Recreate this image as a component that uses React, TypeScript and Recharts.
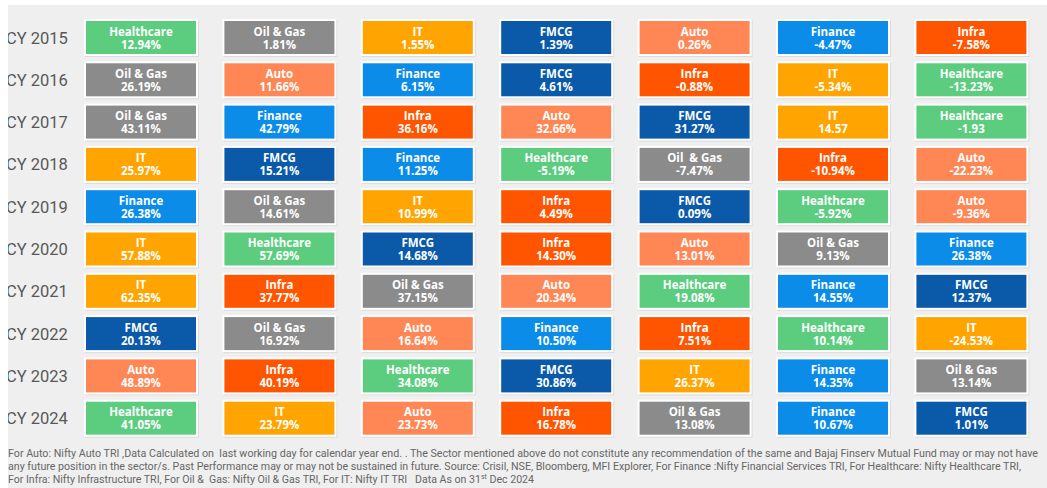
import { ScatterChart, Scatter, XAxis, YAxis, Customized } from 'recharts'

const years = ['CY 2015', 'CY 2016', 'CY 2017', 'CY 2018', 'CY 2019', 'CY 2020', 'CY 2021', 'CY 2022', 'CY 2023', 'CY 2024']

// sector order per year, best to worst
const sectorRanks = [
  ['Healthcare', 'Oil & Gas', 'IT', 'FMCG', 'Auto', 'Finance', 'Infra'],
  ['Oil & Gas', 'Auto', 'Finance', 'FMCG', 'Infra', 'IT', 'Healthcare'],
  ['Oil & Gas', 'Finance', 'Infra', 'Auto', 'FMCG', 'IT', 'Healthcare'],
  ['IT', 'FMCG', 'Finance', 'Healthcare', 'Oil  & Gas', 'Infra', 'Auto'],
  ['Finance', 'Oil & Gas', 'IT', 'Infra', 'FMCG', 'Healthcare', 'Auto'],
  ['IT', 'Healthcare', 'FMCG', 'Infra', 'Auto', 'Oil & Gas', 'Finance'],
  ['IT', 'Infra', 'Oil & Gas', 'Auto', 'Healthcare', 'Finance', 'FMCG'],
  ['FMCG', 'Oil & Gas', 'Auto', 'Finance', 'Infra', 'Healthcare', 'IT'],
  ['Auto', 'Infra', 'Healthcare', 'FMCG', 'IT', 'Finance', 'Oil & Gas'],
  ['Healthcare', 'IT', 'Auto', 'Infra', 'Oil & Gas', 'Finance', 'FMCG'],
]

const returnRanks = [
  [12.94, 1.81, 1.55, 1.39, 0.26, -4.47, -7.58],
  [26.19, 11.66, 6.15, 4.61, -0.88, -5.34, -13.23],
  [43.11, 42.79, 36.16, 32.66, 31.27, 14.57, -1.93],
  [25.97, 15.21, 11.25, -5.19, -7.47, -10.94, -22.23],
  [26.38, 14.61, 10.99, 4.49, 0.09, -5.92, -9.36],
  [57.88, 57.69, 14.68, 14.3, 13.01, 9.13, 26.38],
  [62.35, 37.77, 37.15, 20.34, 19.08, 14.55, 12.37],
  [20.13, 16.92, 16.64, 10.5, 7.51, 10.14, -24.53],
  [48.89, 40.19, 34.08, 30.86, 26.37, 14.35, 13.14],
  [41.05, 23.79, 23.73, 16.78, 13.08, 10.67, 1.01],
]

// cells printed without a % sign in the source
const noPercent = ['CY 2017|5', 'CY 2017|6']

const sectorColors: Record<string, string> = {
  Healthcare: '#5ccd7f',
  'Oil & Gas': '#8b8b8b',
  IT: '#ffa400',
  FMCG: '#0a5aa9',
  Auto: '#ff8655',
  Finance: '#0b8ce8',
  Infra: '#ff5500',
}

const footerLines = [
  'For Auto: Nifty Auto TRI ,Data Calculated on  last working day for calendar year end. . The Sector mentioned above do not constitute any recommendation of the same and Bajaj Finserv Mutual Fund may or may not have',
  'any future position in the sector/s. Past Performance may or may not be sustained in future. Source: Crisil, NSE, Bloomberg, MFI Explorer, For Finance :Nifty Financial Services TRI, For Healthcare: Nifty Healthcare TRI,',
]

const cells = years.flatMap((year, row) =>
  sectorRanks[row].map((sector, col) => ({
    row,
    col,
    sector,
    value: returnRanks[row][col],
    pct: !noPercent.includes(`${year}|${col}`),
  }))
)

const CELL_W = 110
const CELL_H = 33

function Cell(props: any) {
  const { cx, cy, payload } = props
  const fill = sectorColors[payload.sector.replace(/\s+/g, ' ')]
  const label = payload.value.toFixed(2) + (payload.pct ? '%' : '')
  return (
    <g>
      <rect x={cx - CELL_W / 2 - 1} y={cy - CELL_H / 2 - 1} width={CELL_W + 4} height={CELL_H + 4} fill="#000" opacity={0.08} />
      <rect x={cx - CELL_W / 2 - 2} y={cy - CELL_H / 2 - 2} width={CELL_W + 4} height={CELL_H + 4} fill="#fff" />
      <rect x={cx - CELL_W / 2} y={cy - CELL_H / 2} width={CELL_W} height={CELL_H} fill={fill} />
      <text
        x={cx}
        y={cy - 2}
        textAnchor="middle"
        fill="#fff"
        fontSize={11.5}
        fontWeight={700}
        fontFamily="'Open Sans', sans-serif"
        style={{ whiteSpace: 'pre' }}
      >
        {payload.sector}
      </text>
      <text x={cx} y={cy + 11} textAnchor="middle" fill="#fff" fontSize={11.5} fontWeight={700} fontFamily="'Open Sans', sans-serif">
        {label}
      </text>
    </g>
  )
}

function YearTick(props: any) {
  const { y, payload } = props
  return (
    <text x={6} y={y + 6} textAnchor="start" fill="#585858" fontSize={16.5} fontFamily="Roboto, sans-serif">
      {years[payload.value]}
    </text>
  )
}

function Footer() {
  const common = { x: 8, fill: '#666', fontSize: 10.5, fontFamily: 'Roboto, sans-serif', lengthAdjust: 'spacingAndGlyphs' as const, style: { whiteSpace: 'pre' as const } }
  return (
    <g>
      <text {...common} y={457} textLength={1030}>{footerLines[0]}</text>
      <text {...common} y={470} textLength={1013}>{footerLines[1]}</text>
      <text {...common} y={483} textLength={526}>
        {'For Infra: Nifty Infrastructure TRI, For Oil &  Gas: Nifty Oil & Gas TRI, For IT: Nifty IT TRI   Data As on 31'}
        <tspan fontSize={7} dy={-4}>st</tspan>
        <tspan dy={4}>{' Dec 2024'}</tspan>
      </text>
    </g>
  )
}

export default function App() {
  return (
    <div style={{ position: 'absolute', left: 0, top: 0, width: 1047, height: 488, background: '#fff', overflow: 'hidden' }}>
      <div style={{ position: 'absolute', left: 8, top: 5, right: 0, bottom: 0, background: '#efefef' }} />
      <div style={{ position: 'absolute', left: 0, top: 0 }}>
        <ScatterChart width={1047} height={488} margin={{ top: 16.35, right: 6.4, bottom: 48.65, left: 0 }}>
          <XAxis type="number" dataKey="col" domain={[-0.5, 6.5]} hide />
          <YAxis
            type="number"
            dataKey="row"
            domain={[-0.5, 9.5]}
            reversed
            ticks={[0, 1, 2, 3, 4, 5, 6, 7, 8, 9]}
            width={71.8}
            axisLine={false}
            tickLine={false}
            tick={<YearTick />}
            interval={0}
          />
          <Scatter data={cells} shape={<Cell />} isAnimationActive={false} />
          <Customized component={<Footer />} />
        </ScatterChart>
      </div>
      <div style={{ position: 'absolute', left: 0, top: 0, width: 8, height: 488, background: '#fff' }} />
    </div>
  )
}
